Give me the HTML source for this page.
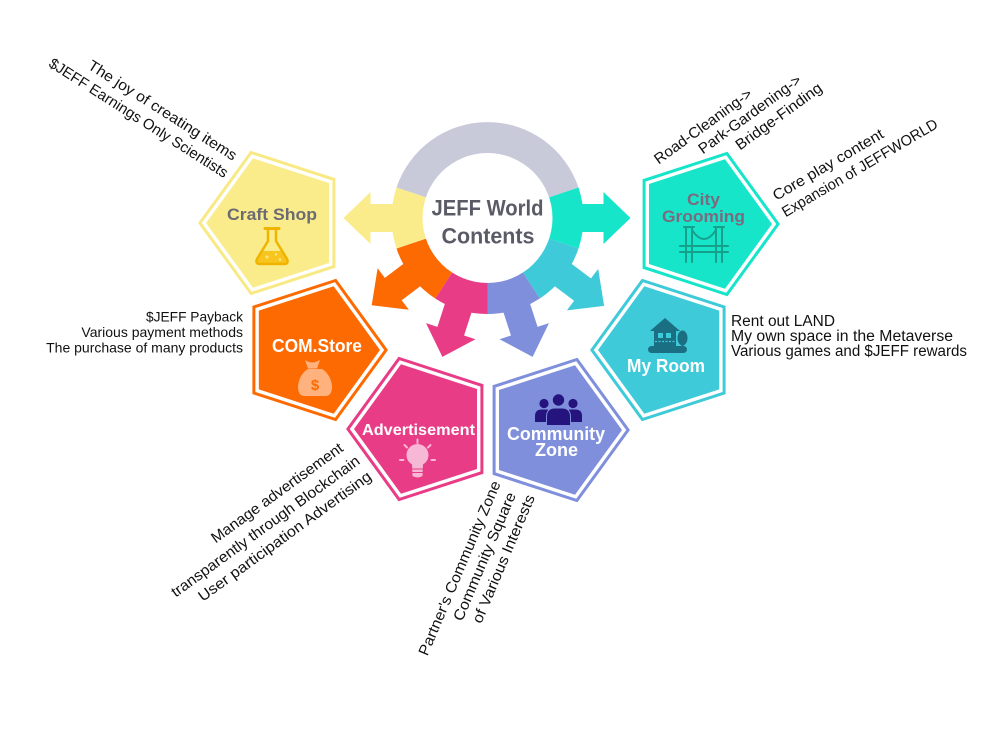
<!DOCTYPE html>
<html>
<head>
<meta charset="utf-8">
<style>
  html, body { margin: 0; padding: 0; background: #ffffff; }
  body { width: 1000px; height: 744px; overflow: hidden; }
  svg { display: block; }
  .ann { font-family: "Liberation Sans", "DejaVu Sans", sans-serif; fill: #111111; }
  .lbl { font-family: "Liberation Sans", "DejaVu Sans", sans-serif; font-weight: bold; }
</style>
</head>
<body>
<svg width="1000" height="744" viewBox="0 0 1000 744" xmlns="http://www.w3.org/2000/svg">
  <rect x="0" y="0" width="1000" height="744" fill="#ffffff"/>

  <!-- Ring segments -->
  <path d="M487.5,218 L396.5,187.5 A96,96 0 0 1 578.5,187.5 Z" fill="#c8c9d9"/>
  <path d="M487.5,218 L578.5,187.5 A96,96 0 0 1 578.5,248.5 Z" fill="#16e5c9"/>
  <path d="M487.5,218 L578.5,248.5 A96,96 0 0 1 539.8,298.5 Z" fill="#3ecad8"/>
  <path d="M487.5,218 L539.8,298.5 A96,96 0 0 1 487.5,314 Z" fill="#7f8fdc"/>
  <path d="M487.5,218 L487.5,314 A96,96 0 0 1 435.2,298.5 Z" fill="#e83c86"/>
  <path d="M487.5,218 L435.2,298.5 A96,96 0 0 1 396.5,248.5 Z" fill="#fe6a02"/>
  <path d="M487.5,218 L396.5,248.5 A96,96 0 0 1 396.5,187.5 Z" fill="#faec8b"/>

  <!-- Arrows -->
  <g transform="translate(487.5,218)">
    <polygon transform="rotate(180)" points="80,-14 117,-14 117,-26 144,0 117,26 117,14 80,14" fill="#faec8b"/>
    <polygon transform="rotate(0)" points="80,-14 116,-14 116,-26 143,0 116,26 116,14 80,14" fill="#16e5c9"/>
    <polygon transform="rotate(143)" points="80,-14 118,-14 118,-26 145,0 118,26 118,14 80,14" fill="#fe6a02"/>
    <polygon transform="rotate(108)" points="80,-14 119,-14 119,-26 146,0 119,26 119,14 80,14" fill="#e83c86"/>
    <polygon transform="rotate(72)" points="80,-14 119,-14 119,-26 146,0 119,26 119,14 80,14" fill="#7f8fdc"/>
    <polygon transform="rotate(37)" points="80,-14 119,-14 119,-26 146,0 119,26 119,14 80,14" fill="#3ecad8"/>
  </g>

  <!-- Center circle -->
  <circle cx="487.5" cy="218" r="65" fill="#ffffff"/>
  <text x="487.5" y="215.5" text-anchor="middle" class="lbl" font-size="22" fill="#5b5b68" textLength="112" lengthAdjust="spacingAndGlyphs">JEFF World</text>
  <text x="488" y="243.3" text-anchor="middle" class="lbl" font-size="22" fill="#5b5b68" textLength="93" lengthAdjust="spacingAndGlyphs">Contents</text>

  <!-- Craft Shop pentagon -->
  <polygon points="199.9,223 251.1,152.5 333.9,179.4 333.9,266.6 251.1,293.5" fill="none" stroke="#f9e985" stroke-width="3"/>
  <polygon points="206,223 253,158.3 329,183 329,263 253,287.7" fill="#faec8b"/>
  <text x="272" y="220" text-anchor="middle" class="lbl" font-size="17" fill="#6b6b73" textLength="90" lengthAdjust="spacingAndGlyphs">Craft Shop</text>
  <!-- flask -->
  <path d="M261,251 L283,251 L287,259 Q289,264 284,264 L260,264 Q255,264 257,259 Z" fill="#f7c51e"/>
  <path d="M268,229 L268,241 L257,259 Q255,264 260,264 L284,264 Q289,264 287,259 L276,241 L276,229" fill="none" stroke="#f0b400" stroke-width="2.5" stroke-linejoin="round"/>
  <line x1="265" y1="228.5" x2="279" y2="228.5" stroke="#f0b400" stroke-width="3" stroke-linecap="round"/>
  <circle cx="267" cy="257" r="1.5" fill="#fde68a"/>
  <circle cx="276" cy="254.5" r="1.2" fill="#fde68a"/>
  <circle cx="280" cy="259.5" r="1.3" fill="#fde68a"/>

  <!-- COM.Store pentagon -->
  <polygon points="386.1,350 335.6,419.5 253.9,393 253.9,307 335.6,280.5" fill="none" stroke="#fe6a02" stroke-width="3"/>
  <polygon points="380,350 333.7,413.7 258.8,389.4 258.8,310.6 333.7,286.3" fill="#fe6a02"/>
  <text x="317" y="352" text-anchor="middle" class="lbl" font-size="18" fill="#ffffff" textLength="90" lengthAdjust="spacingAndGlyphs">COM.Store</text>
  <!-- money bag -->
  <path d="M305,360 Q312,365 320,360 L317,368.5 L308,368.5 Z" fill="#ffb27d"/>
  <path d="M308,369 C296,376 295,396 304,396 L326,396 C335,396 334,376 322,369 Z" fill="#ffb27d"/>
  <text x="315" y="390" text-anchor="middle" class="lbl" font-size="15" fill="#fe6a02">$</text>

  <!-- Advertisement pentagon -->
  <polygon points="347.9,429 399.1,358.5 481.9,385.4 481.9,472.6 399.1,499.5" fill="none" stroke="#e83c86" stroke-width="3"/>
  <polygon points="354,429 401,364.3 477,389 477,469 401,493.7" fill="#e83c86"/>
  <text x="418.5" y="435" text-anchor="middle" class="lbl" font-size="16" fill="#ffffff" textLength="113" lengthAdjust="spacingAndGlyphs">Advertisement</text>
  <!-- lightbulb -->
  <circle cx="417.5" cy="455" r="11" fill="#f7b8d6"/>
  <path d="M412,463 L423,463 L422.5,476 Q417.5,479 412.5,476 Z" fill="#f7b8d6"/>
  <line x1="412" y1="469" x2="423" y2="469" stroke="#e83c86" stroke-width="1"/>
  <line x1="412" y1="472.5" x2="423" y2="472.5" stroke="#e83c86" stroke-width="1"/>
  <g stroke="#f7b8d6" stroke-width="2" stroke-linecap="round">
    <line x1="417.5" y1="439.5" x2="417.5" y2="443"/>
    <line x1="404.5" y1="445" x2="407" y2="447.5"/>
    <line x1="430.5" y1="445" x2="428" y2="447.5"/>
    <line x1="400" y1="460" x2="403.5" y2="460"/>
    <line x1="431.5" y1="460" x2="435" y2="460"/>
  </g>

  <!-- Community Zone pentagon -->
  <polygon points="628.1,430 576.9,500.5 494.1,473.6 494.1,386.4 576.9,359.5" fill="none" stroke="#7f8fdc" stroke-width="3"/>
  <polygon points="622,430 575,494.7 499,470 499,390 575,365.3" fill="#7f8fdc"/>
  <!-- people -->
  <g fill="#25137e">
    <circle cx="544" cy="403.5" r="4.6"/>
    <circle cx="573" cy="403.5" r="4.6"/>
    <path d="M535,422 L535,416 Q535,409.5 542,409.5 L546,409.5 Q553,409.5 553,416 L553,422 Z"/>
    <path d="M564,422 L564,416 Q564,409.5 571,409.5 L575,409.5 Q582,409.5 582,416 L582,422 Z"/>
    <circle cx="558.5" cy="400" r="6.2" stroke="#7f8fdc" stroke-width="1"/>
    <path d="M546.5,425.5 L546.5,417 Q546.5,408 555,408 L562,408 Q570.5,408 570.5,417 L570.5,425.5 Z" stroke="#7f8fdc" stroke-width="1"/>
  </g>
  <text x="556" y="440" text-anchor="middle" class="lbl" font-size="18" fill="#ffffff" textLength="98" lengthAdjust="spacingAndGlyphs">Community</text>
  <text x="556.5" y="456" text-anchor="middle" class="lbl" font-size="18" fill="#ffffff" textLength="43" lengthAdjust="spacingAndGlyphs">Zone</text>

  <!-- City Grooming pentagon -->
  <polygon points="778.1,224 726.9,294.5 644.1,267.6 644.1,180.4 726.9,153.5" fill="none" stroke="#16e5c9" stroke-width="3"/>
  <polygon points="772,224 725,288.7 649,264 649,184 725,159.3" fill="#16e5c9"/>
  <text x="703.5" y="205" text-anchor="middle" class="lbl" font-size="17" fill="#7c6a7e" textLength="33" lengthAdjust="spacingAndGlyphs">City</text>
  <text x="703.5" y="222" text-anchor="middle" class="lbl" font-size="17" fill="#7c6a7e" textLength="83" lengthAdjust="spacingAndGlyphs">Grooming</text>
  <!-- bridge -->
  <g stroke="#15a08b" stroke-width="2" fill="none" stroke-linecap="round">
    <line x1="686" y1="227" x2="686" y2="262"/>
    <line x1="692" y1="227" x2="692" y2="262"/>
    <line x1="716" y1="227" x2="716" y2="262"/>
    <line x1="722" y1="227" x2="722" y2="262"/>
    <line x1="684" y1="227" x2="694" y2="227"/>
    <line x1="714" y1="227" x2="724" y2="227"/>
    <line x1="680" y1="246" x2="728" y2="246"/>
    <line x1="680" y1="252" x2="728" y2="252"/>
    <path d="M692,230 Q704,248 716,230"/>
  </g>

  <!-- My Room pentagon -->
  <polygon points="591.9,350 642.4,280.5 724.1,307 724.1,393 642.4,419.5" fill="none" stroke="#3ecad8" stroke-width="3"/>
  <polygon points="598,350 644.3,286.3 719.2,310.6 719.2,389.4 644.3,413.7" fill="#3ecad8"/>
  <!-- house -->
  <g fill="#1b6f83">
    <polygon points="650,331 665,318 680,331"/>
    <rect x="654" y="330" width="22" height="17"/>
    <ellipse cx="682.5" cy="338" rx="5" ry="7.5"/>
    <rect x="681.5" y="343" width="2" height="7"/>
    <rect x="648" y="346" width="39" height="7" rx="3.5"/>
  </g>
  <rect x="658" y="333" width="5" height="5" fill="#3ecad8"/>
  <rect x="666" y="333" width="5" height="5" fill="#3ecad8"/>
  <line x1="655" y1="341.5" x2="675" y2="341.5" stroke="#3ecad8" stroke-width="1.2" stroke-dasharray="2,1.5"/>
  <text x="666" y="372" text-anchor="middle" class="lbl" font-size="18" fill="#ffffff" textLength="78" lengthAdjust="spacingAndGlyphs">My Room</text>

  <!-- Horizontal annotations -->
  <g class="ann" font-size="14" text-anchor="end">
    <text x="243" y="321.5" textLength="97" lengthAdjust="spacingAndGlyphs">$JEFF Payback</text>
    <text x="243" y="337">Various payment methods</text>
    <text x="243" y="352.5">The purchase of many products</text>
  </g>
  <g class="ann" font-size="15.5">
    <text x="731" y="326" textLength="104" lengthAdjust="spacingAndGlyphs">Rent out LAND</text>
    <text x="731" y="341" textLength="222" lengthAdjust="spacingAndGlyphs">My own space in the Metaverse</text>
    <text x="731" y="356" textLength="236" lengthAdjust="spacingAndGlyphs">Various games and $JEFF rewards</text>
  </g>

  <!-- Rotated annotations: Craft Shop -->
  <g class="ann" font-size="15" text-anchor="middle" dominant-baseline="central">
    <text transform="translate(162.3,110.7) rotate(32.5)" textLength="173" lengthAdjust="spacingAndGlyphs">The joy of creating items</text>
    <text transform="translate(138.3,118.3) rotate(32.5)" textLength="209" lengthAdjust="spacingAndGlyphs">$JEFF Earnings Only Scientists</text>
  </g>

  <!-- City Grooming top -->
  <g class="ann" font-size="15" text-anchor="middle" dominant-baseline="central">
    <text transform="translate(703.3,126.7) rotate(-36)" textLength="117" lengthAdjust="spacingAndGlyphs">Road-Cleaning-&gt;</text>
    <text transform="translate(750,114.7) rotate(-36)" textLength="123" lengthAdjust="spacingAndGlyphs">Park-Gardening-&gt;</text>
    <text transform="translate(779,116.7) rotate(-36)" textLength="103" lengthAdjust="spacingAndGlyphs">Bridge-Finding</text>
  </g>

  <!-- City Grooming right -->
  <g class="ann" font-size="15" text-anchor="middle" dominant-baseline="central">
    <text transform="translate(828.3,165) rotate(-30.5)" textLength="126" lengthAdjust="spacingAndGlyphs">Core play content</text>
    <text transform="translate(860,168.3) rotate(-30.5)" textLength="178" lengthAdjust="spacingAndGlyphs">Expansion of JEFFWORLD</text>
  </g>

  <!-- Advertisement -->
  <g class="ann" font-size="15" text-anchor="middle" dominant-baseline="central">
    <text transform="translate(277.3,493.3) rotate(-36)" textLength="159" lengthAdjust="spacingAndGlyphs">Manage advertisement</text>
    <text transform="translate(265.7,526.7) rotate(-36)" textLength="229" lengthAdjust="spacingAndGlyphs">transparently through Blockchain</text>
    <text transform="translate(285,536.7) rotate(-36)" textLength="210" lengthAdjust="spacingAndGlyphs">User participation Advertising</text>
  </g>

  <!-- Community -->
  <g class="ann" font-size="15" text-anchor="middle" dominant-baseline="central">
    <text transform="translate(460,568.3) rotate(-67)" textLength="188" lengthAdjust="spacingAndGlyphs">Partner's Community Zone</text>
    <text transform="translate(485,556.7) rotate(-67)" textLength="138" lengthAdjust="spacingAndGlyphs">Community Square</text>
    <text transform="translate(504,559) rotate(-67)" textLength="138" lengthAdjust="spacingAndGlyphs">of Various Interests</text>
  </g>
</svg>
</body>
</html>
